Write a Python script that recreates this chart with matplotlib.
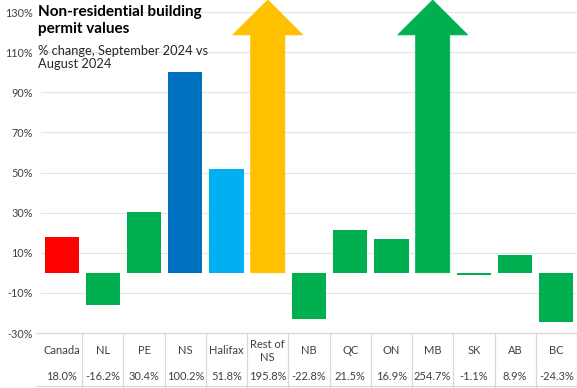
import matplotlib.pyplot as plt
from matplotlib.patches import Polygon
from matplotlib.transforms import blended_transform_factory

# data
regions = ["Canada", "NL", "PE", "NS", "Halifax", "Rest of\nNS", "NB", "QC", "ON", "MB", "SK", "AB", "BC"]
changes = [18.0, -16.2, 30.4, 100.2, 51.8, 195.8, -22.8, 21.5, 16.9, 254.7, -1.1, 8.9, -24.3]
value_labels = ["18.0%", "-16.2%", "30.4%", "100.2%", "51.8%", "195.8%", "-22.8%",
                "21.5%", "16.9%", "254.7%", "-1.1%", "8.9%", "-24.3%"]
bar_colors = ["#FF0000", "#00B050", "#00B050", "#0070C0", "#00B0F0", "#FFC000", "#00B050",
              "#00B050", "#00B050", "#00B050", "#00B050", "#00B050", "#00B050"]
yticks = [-30, -10, 10, 30, 50, 70, 90, 110, 130]

plt.rcParams["font.family"] = ["Lato", "DejaVu Sans"]
txt = "#404040"

fig = plt.figure(figsize=(5.77, 3.88), dpi=100)
ax = fig.add_axes([41 / 577, 55 / 388, 536 / 577, 333 / 388])

ymin, ymax = -30, 136
cap = 130
width = 0.83
x = list(range(len(regions)))

for i, (v, c) in enumerate(zip(changes, bar_colors)):
    if v <= cap:
        ax.bar(i, v, width=width, color=c, zorder=3)
    else:
        # value off the scale: draw an arrow reaching the top
        head_base = 118.6
        hw = width / 2
        hh = 0.85
        pts = [(i - hw, 0), (i - hw, head_base), (i - hh, head_base), (i, ymax),
               (i + hh, head_base), (i + hw, head_base), (i + hw, 0)]
        ax.add_patch(Polygon(pts, closed=True, facecolor=c, edgecolor=c, lw=0.5,
                             zorder=3, clip_on=False))

ax.set_xlim(-0.5, len(regions) - 0.5)
ax.set_ylim(ymin, ymax)
ax.set_yticks(yticks)
ax.set_yticklabels([f"{t}%" for t in yticks])
ax.set_xticks([])
ax.tick_params(axis="y", length=0, labelsize=7.8, labelcolor=txt, pad=6)
for t in yticks:
    if t > ymin:
        ax.axhline(t, color="#E3E3E3", lw=0.8, zorder=1)
for s in ax.spines.values():
    s.set_visible(False)

# data table under the chart
tr = blended_transform_factory(ax.transData, fig.transFigure)
for i, (r, lab) in enumerate(zip(regions, value_labels)):
    ax.text(i, 1 - 351 / 388, r, transform=tr, ha="center", va="center",
            fontsize=8, color=txt, linespacing=1.25)
    ax.text(i, 1 - 376 / 388, lab, transform=tr, ha="center", va="center",
            fontsize=8, color=txt)
grid_c = "#D9D9D9"
fig.add_artist(plt.Line2D([36 / 577, 1], [55 / 388, 55 / 388], color=grid_c, lw=0.9))
fig.add_artist(plt.Line2D([36 / 577, 1], [2 / 388, 2 / 388], color=grid_c, lw=0.9))
for i in range(len(regions)):
    ax.plot([i + 0.5, i + 0.5], [0, 55 / 388], transform=tr, color=grid_c, lw=0.9,
            clip_on=False)

# titles
fig.text(38 / 577, 1 - 5 / 388, "Non-residential building\npermit values", ha="left", va="top",
         fontsize=11, fontweight="bold", color="black", linespacing=1.3)
fig.text(38 / 577, 1 - 45 / 388, "% change, September 2024 vs\nAugust 2024", ha="left", va="top",
         fontsize=9.3, color="#262626", linespacing=1.15)

fig.savefig("out.png", dpi=100)
